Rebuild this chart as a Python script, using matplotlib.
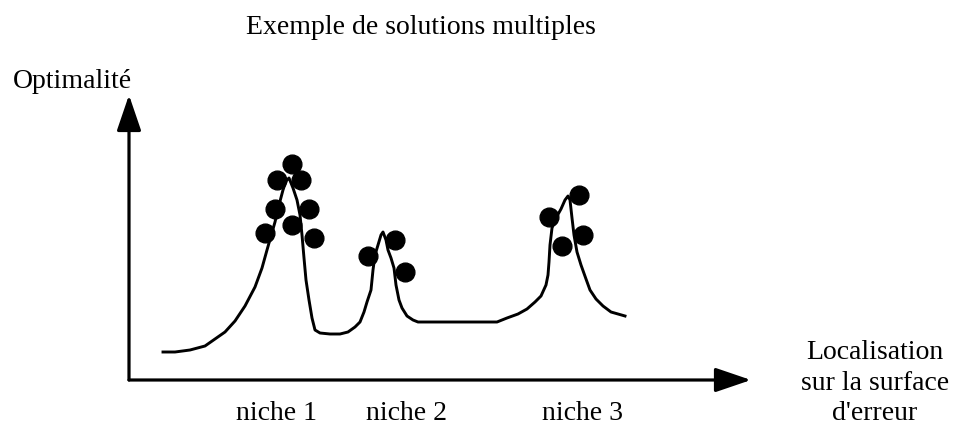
import matplotlib
matplotlib.use('Agg')
import matplotlib.pyplot as plt

# error surface profile: localisation vs optimality
loc = [34, 46, 61, 76, 86, 96, 106, 116, 126, 133, 138, 142, 146, 150, 154, 157, 160, 164, 168, 171,
       173, 175, 177, 180, 183, 186, 191, 201, 211, 219, 226, 231, 235, 238, 242, 244, 246, 249, 252, 254,
       257, 259, 262, 265, 267, 270, 273, 278, 284, 289, 311, 341, 368, 378, 389, 398, 406, 412, 417, 419,
       420, 421, 423, 427, 432, 436, 439, 441, 443, 445, 448, 452, 457, 461, 467, 474, 482, 489, 496]
optim = [28, 28, 30, 34, 41, 48, 59, 74, 93, 112, 130, 144, 158, 175, 190, 199, 202, 192, 180, 165,
         145, 122, 100, 80, 62, 50, 47, 46, 46, 48, 53, 58, 68, 78, 90, 110, 125, 135, 145, 148,
         140, 130, 122, 112, 95, 80, 72, 64, 60, 58, 58, 58, 58, 62, 66, 71, 78, 84, 95, 105,
         118, 135, 152, 162, 171, 180, 184, 180, 162, 145, 128, 115, 101, 90, 81, 74, 68, 66, 64]

# solutions found around each niche
sol_loc = [163, 148, 172, 146, 180, 163, 136, 185, 266, 239, 276, 450, 420, 454, 433]
sol_opt = [216, 200, 200, 171, 171, 155, 147, 142, 140, 124, 108, 185, 163, 145, 134]

niches = ['niche 1', 'niche 2', 'niche 3']
niche_loc = [148, 277, 454]

plt.rcParams['font.family'] = ['Liberation Serif', 'DejaVu Serif']

fig = plt.figure(figsize=(9.6, 4.32), dpi=100)
ax = fig.add_axes([0, 0, 1, 1])
ax.set_xlim(-129, 831)
ax.set_ylim(-52, 380)
ax.axis('off')

ax.plot(loc, optim, color='black', lw=2.1)
ax.plot(sol_loc, sol_opt, 'o', color='black', markersize=13.5)

arrow = dict(arrowstyle='-|>,head_length=2.2,head_width=0.75', lw=2.3, color='black',
             shrinkA=0, shrinkB=0)
ax.annotate('', xy=(0, 285), xytext=(0, 0), arrowprops=arrow)
ax.annotate('', xy=(622, 0), xytext=(0, 0), arrowprops=arrow)

fs = 20
ax.text(292, 352, 'Exemple de solutions multiples', ha='center', va='center', fontsize=fs)
ax.text(-116, 299, 'Optimalité', ha='left', va='center', fontsize=fs)
for name, x in zip(niches, niche_loc):
    ax.text(x, -34, name, ha='center', va='center', fontsize=fs)
ax.text(746, -3, "Localisation\nsur la surface\nd'erreur", ha='center', va='center',
        fontsize=fs, linespacing=1.3)

fig.savefig('out.png', dpi=100)
